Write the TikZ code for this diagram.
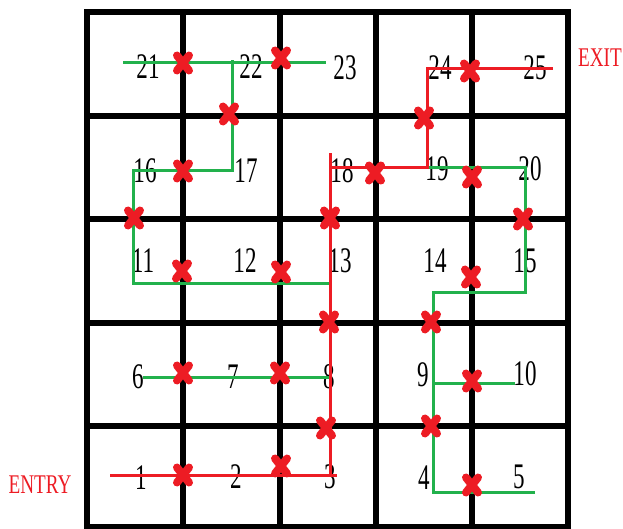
\documentclass[tikz,border=0pt]{standalone}
\usepackage{fontspec}
\newfontfamily\numfont[FakeStretch=0.64]{Liberation Serif}
\newfontfamily\lblfont[FakeStretch=0.71]{Liberation Serif}
\definecolor{mzred}{RGB}{237,28,36}
\definecolor{mzgreen}{RGB}{34,177,76}
\tikzset{
  num/.style={inner sep=0pt, font=\numfont\fontsize{36}{36}\selectfont},
  sidelbl/.style={inner sep=0pt, text=mzred, font=\lblfont\fontsize{27}{27}\selectfont},
  wall/.style={line width=5.5pt, black},
  outer/.style={line width=6pt, black},
  solpath/.style={draw=mzred, line width=3pt},
  deadpath/.style={draw=mzgreen, line width=3pt},
  blk/.pic={
    \draw[mzred, line width=8pt, line cap=round] (-6,-7.5) -- (6,7.5);
    \draw[mzred, line width=8pt, line cap=round] (-6,7.5) -- (6,-7.5);
  }
}
\begin{document}
\begin{tikzpicture}[x=1pt,y=-1pt]
\useasboundingbox (0,0) rectangle (623,529);
% grid
\foreach \gx in {183,280,376,472} \draw[wall] (\gx,12) -- (\gx,527);
\foreach \gy in {116,219,323,426} \draw[wall] (87,\gy) -- (568,\gy);
\draw[outer] (87,12) rectangle (568,527);
% numbers
\node[num] (c1) at (141,478) {1};
\node[num] (c2) at (236,477) {2};
\node[num] (c3) at (330,477) {3};
\node[num] (c4) at (424,478) {4};
\node[num] (c5) at (519,477) {5};
\node[num] (c6) at (138,377) {6};
\node[num] (c7) at (233,377) {7};
\node[num] (c8) at (329,377) {8};
\node[num] (c9) at (423,375) {9};
\node[num] (c10) at (525,374) {10};
\node[num] (c11) at (143,261) {11};
\node[num] (c12) at (245,261) {12};
\node[num] (c13) at (340,261) {13};
\node[num] (c14) at (435,261) {14};
\node[num] (c15) at (525,261) {15};
\node[num] (c16) at (145,171) {16};
\node[num] (c17) at (246,171) {17};
\node[num] (c18) at (342,171) {18};
\node[num] (c19) at (437,169) {19};
\node[num] (c20) at (530,169) {20};
\node[num] (c21) at (148,67) {21};
\node[num] (c22) at (251,67) {22};
\node[num] (c23) at (345,68) {23};
\node[num] (c24) at (440,68) {24};
\node[num] (c25) at (535,68) {25};
\node[sidelbl] (entry) at (40,485) {ENTRY};
\node[sidelbl] (exit) at (600,58) {EXIT};
% waypoints
\coordinate (g1a) at (143,377); \coordinate (g1b) at (330,377);
\coordinate (g2a) at (329,283); \coordinate (g2b) at (133,283);
\coordinate (g2c) at (133,171); \coordinate (g2d) at (232,171);
\coordinate (g2e) at (232,60);
\coordinate (g3a) at (123,63); \coordinate (g3b) at (326,63);
\coordinate (g4a) at (428,168); \coordinate (g4b) at (525,168);
\coordinate (g4c) at (525,292); \coordinate (g4d) at (433,292);
\coordinate (g4e) at (433,492); \coordinate (g4f) at (535,492);
\coordinate (g5a) at (433,383); \coordinate (g5b) at (515,383);
\coordinate (r1a) at (110,475); \coordinate (r1b) at (337,475);
\coordinate (r2a) at (330,475); \coordinate (r2b) at (330,153);
\coordinate (r3a) at (330,168); \coordinate (r3b) at (427,168);
\coordinate (r3c) at (427,69); \coordinate (r3d) at (553,69);
% dead-end paths
\draw[deadpath] (g1a) -- (g1b);
\draw[deadpath] (g2a) -- (g2b) -- (g2c) -- (g2d) -- (g2e);
\draw[deadpath] (g3a) -- (g3b);
\draw[deadpath] (g4a) -- (g4b) -- (g4c) -- (g4d) -- (g4e) -- (g4f);
\draw[deadpath] (g5a) -- (g5b);
% solution path
\draw[solpath] (r1a) -- (r1b);
\draw[solpath] (r2a) -- (r2b);
\draw[solpath] (r3a) -- (r3b) -- (r3c) -- (r3d);
% blocked walls
\foreach \bx/\by in {183/63,281/58,229/114,183/171,134/218,330/218,375/173,424/118,
  470/71,472/177,523/219,182/271,281/272,471/277,329/322,431/322,183/373,280/373,
  472/381,326/428,431/426,183/475,281/466,472/485}
  \pic at (\bx,\by) {blk};
\end{tikzpicture}
\end{document}
